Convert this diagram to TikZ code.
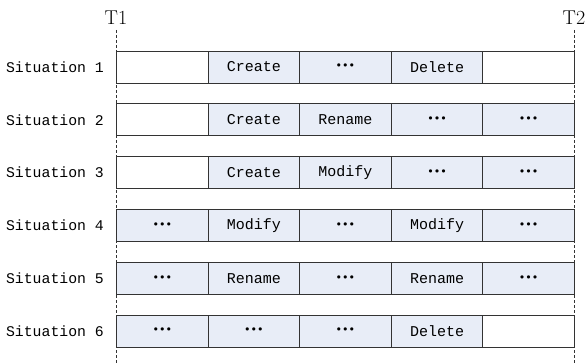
\documentclass[tikz,border=0pt]{standalone}
\usepackage{fontspec}
\setmonofont{Liberation Mono}
\newfontfamily\dvs{DejaVu Sans}
\definecolor{cellblue}{HTML}{E8EDF7}
\definecolor{lineg}{HTML}{333333}
\newcommand{\dd}{{\dvs\fontsize{11}{11}\selectfont •••}}
\begin{document}
\begin{tikzpicture}[x=1pt,y=-1pt,
  cell/.style={draw=lineg,line width=0.9pt,minimum width=91.6pt,minimum height=32pt,inner sep=0pt,anchor=west,font=\ttfamily\fontsize{15}{15}\selectfont},
  bl/.style={cell,fill=cellblue},
  wh/.style={cell,fill=white},
  lab/.style={anchor=east,font=\ttfamily\fontsize{14.8}{15}\selectfont,inner sep=0pt},
  tlab/.style={font=\rmfamily\fontsize{20}{20}\selectfont,inner sep=0pt},
  tline/.style={draw=lineg,line width=0.6pt,dash pattern=on 3pt off 2pt}]
\useasboundingbox (0,0) rectangle (585,363);
% time markers
\node[tlab] (t1) at (116,18) {T1};
\node[tlab] (t2) at (574,18) {T2};
\coordinate (t1b) at (116,363);
\coordinate (t2b) at (574,363);
\draw[tline] (116,30) -- (t1b);
\draw[tline] (574,30) -- (t2b);
% rows
\foreach \r/\lbl/\a/\sa/\b/\sb/\c/\sc/\d/\sd/\e/\se in {
  1/Situation 1/wh//bl/Create/bl/\dd/bl/Delete/wh/,
  2/Situation 2/wh//bl/Create/bl/Rename/bl/\dd/bl/\dd,
  3/Situation 3/wh//bl/Create/bl/Modify/bl/\dd/bl/\dd,
  4/Situation 4/bl/\dd/bl/Modify/bl/\dd/bl/Modify/bl/\dd,
  5/Situation 5/bl/\dd/bl/Rename/bl/\dd/bl/Rename/bl/\dd,
  6/Situation 6/bl/\dd/bl/\dd/bl/\dd/bl/Delete/wh/}{
  \pgfmathsetmacro{\yy}{67+52.8*(\r-1)}
  \node[lab] (s\r) at (104,\yy) {\lbl};
  \node[\a] (c\r1) at (116,\yy) {\sa};
  \node[\b] (c\r2) at (207.6,\yy) {\sb};
  \node[\c] (c\r3) at (299.2,\yy) {\sc};
  \node[\d] (c\r4) at (390.8,\yy) {\sd};
  \node[\e] (c\r5) at (482.4,\yy) {\se};
}
\end{tikzpicture}
\end{document}
